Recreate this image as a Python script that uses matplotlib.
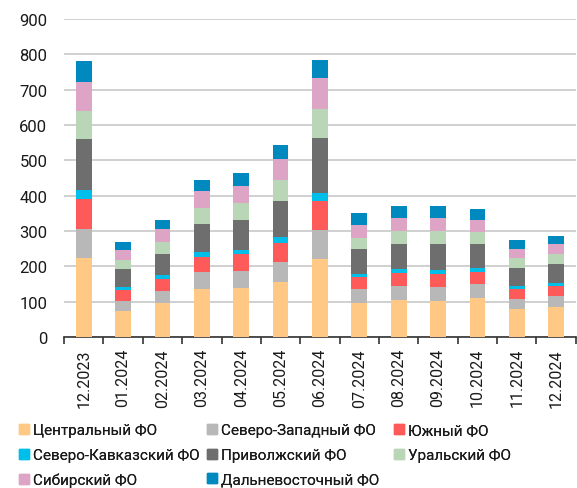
import matplotlib
matplotlib.use("Agg")
import matplotlib.pyplot as plt
import numpy as np
from matplotlib.lines import Line2D

plt.rcParams['font.family'] = ['Roboto', 'DejaVu Sans']

months = ["12.2023", "01.2024", "02.2024", "03.2024", "04.2024", "05.2024", "06.2024",
          "07.2024", "08.2024", "09.2024", "10.2024", "11.2024", "12.2024"]

central = [223, 73, 95, 135, 138, 155, 221, 97, 104, 101, 110, 78, 84]
sev_zap = [83, 29, 35, 50, 50, 58, 82, 38, 40, 40, 40, 30, 31]
yuzh = [84, 30, 33, 42, 46, 54, 83, 34, 38, 36, 34, 29, 28]
sev_kav = [27, 10, 11, 12, 13, 17, 21, 8, 11, 12, 10, 8, 9]
privolzh = [143, 51, 61, 82, 85, 102, 156, 71, 70, 73, 70, 49, 54]
ural = [79, 25, 33, 43, 47, 57, 83, 33, 37, 37, 34, 28, 29]
sibir = [84, 29, 38, 50, 49, 60, 86, 37, 38, 39, 34, 28, 27]
dalvost = [58, 22, 24, 30, 35, 39, 52, 34, 34, 32, 29, 25, 25]

series = [
    ("Центральный ФО", central, "#FFC985"),
    ("Северо-Западный ФО", sev_zap, "#B8B8B9"),
    ("Южный ФО", yuzh, "#FF5A5A"),
    ("Северо-Кавказский ФО", sev_kav, "#00BEEA"),
    ("Приволжский ФО", privolzh, "#6D6E6D"),
    ("Уральский ФО", ural, "#B9D6B6"),
    ("Сибирский ФО", sibir, "#DDA4C5"),
    ("Дальневосточный ФО", dalvost, "#0089BF"),
]

fig = plt.figure(figsize=(5.77, 4.89), dpi=100)
ax = fig.add_axes([0.111, 0.309, 0.887, 0.65])

x = np.arange(len(months))
bottom = np.zeros(len(months))
for name, vals, col in series:
    ax.bar(x, vals, bottom=bottom, width=0.4, color=col, label=name, zorder=3)
    bottom += np.array(vals)

ax.set_xlim(-0.5, len(months) - 0.5)
ax.set_ylim(0, 900)
ax.set_yticks(range(0, 901, 100))
ax.yaxis.grid(True, color="#C8C8C8", linewidth=1.2, zorder=0)
ax.set_axisbelow(True)
for s in ["top", "right", "left"]:
    ax.spines[s].set_visible(False)
ax.spines["bottom"].set_color("#333333")
ax.spines["bottom"].set_linewidth(1.2)
ax.tick_params(axis="y", length=0, labelsize=12, colors="#1a1a1a", pad=12)
ax.set_xticks(x)
ax.set_xticklabels(months, rotation=90, fontsize=11.5, color="#1a1a1a")
ax.tick_params(axis="x", which="major", length=0, pad=8)
ax.set_xticks(np.arange(-0.5, len(months), 1), minor=True)
ax.tick_params(axis="x", which="minor", length=5, width=1.2, color="#333333", direction="out")

# legend: three columns of equal width, filled row by row
col_x = [0.0336, 0.359, 0.684]
for c in range(3):
    idx = [i for i in range(len(series)) if i % 3 == c]
    handles = [Line2D([0], [0], marker="s", linestyle="none", markersize=7,
                      markerfacecolor=series[i][2], markeredgecolor=series[i][2]) for i in idx]
    labels = [series[i][0] for i in idx]
    leg = fig.legend(handles, labels, loc="upper left", bbox_to_anchor=(col_x[c], 0.132),
                     frameon=False, fontsize=11, handlelength=0.6, handletextpad=0.3,
                     labelspacing=0.7, borderaxespad=0, borderpad=0,
                     labelcolor="#1a1a1a")
    fig.add_artist(leg)

fig.savefig("out.png", dpi=100)
